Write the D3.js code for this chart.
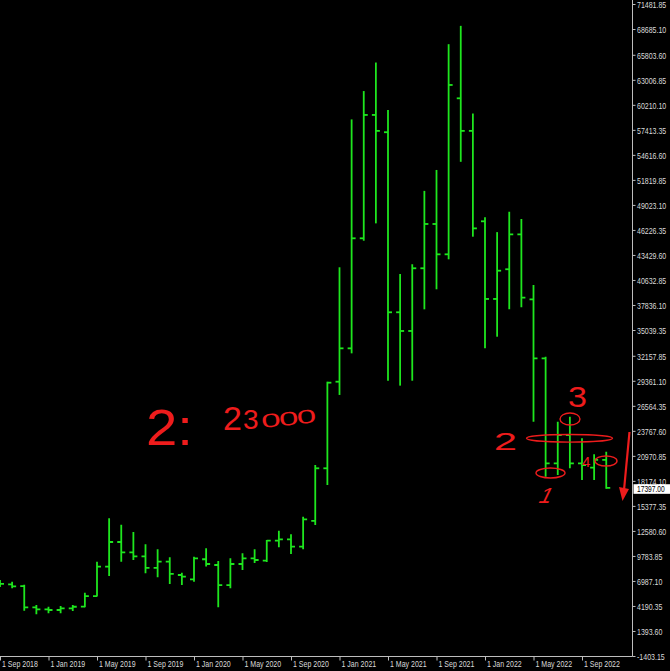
<!DOCTYPE html>
<html>
<head>
<meta charset="utf-8">
<script src="https://cdn.jsdelivr.net/npm/d3@7"></script>
<style>
  html, body { margin: 0; padding: 0; background: #000; overflow: hidden; }
  svg { display: block; }
</style>
</head>
<body>
<svg id="chart" width="670" height="671"></svg>
<script>
// ---- Data: monthly OHLC bars, Sep 2018 .. Nov 2022 ----
const months = ["Sep 2018","Oct 2018","Nov 2018","Dec 2018","Jan 2019","Feb 2019","Mar 2019","Apr 2019","May 2019","Jun 2019","Jul 2019","Aug 2019",
  "Sep 2019","Oct 2019","Nov 2019","Dec 2019","Jan 2020","Feb 2020","Mar 2020","Apr 2020","May 2020","Jun 2020","Jul 2020","Aug 2020",
  "Sep 2020","Oct 2020","Nov 2020","Dec 2020","Jan 2021","Feb 2021","Mar 2021","Apr 2021","May 2021","Jun 2021","Jul 2021","Aug 2021",
  "Sep 2021","Oct 2021","Nov 2021","Dec 2021","Jan 2022","Feb 2022","Mar 2022","Apr 2022","May 2022","Jun 2022","Jul 2022","Aug 2022",
  "Sep 2022","Oct 2022","Nov 2022"];
const openVals  = [6760,6600,6400,4040,3800,3740,3930,4110,5300,8580,11340,10180,9730,8440,9140,7650,7170,9410,8770,6530,8880,9520,9250,11490,
  11640,10820,13700,19580,29260,32990,45290,59080,57150,37020,34930,41940,46890,43500,60940,57300,47190,38510,41830,45740,38470,31870,20140,23300,20140,19650,20510];
const highVals  = [7100,6900,6550,4300,4100,4190,4300,5680,9140,14000,13280,12460,11080,10520,9630,7910,9700,10640,9220,9520,10080,10520,11560,12600,
  12200,14160,19950,29260,42050,58580,61750,64940,59640,41300,42390,50590,52930,66990,69040,59240,47640,45980,48250,47450,40070,32050,24790,25350,22930,21150,21440];
const lowVals   = [6300,6160,3660,3250,3370,3370,3620,4050,5250,7540,9140,9330,7840,7400,6650,6530,6900,8590,4040,6160,8210,9000,9100,10750,
  10000,10520,13240,17710,27780,32430,45020,46960,29370,28820,29370,37350,39590,42940,53840,45470,32990,34290,37350,37580,24790,18640,18830,19580,18270,18270,17300];
const closeVals = [6650,6370,4040,3800,3740,3930,4100,5300,8580,11340,10180,9730,8440,9140,7770,7460,9520,8880,6530,8880,9520,9330,11490,11640,
  10820,13880,19580,29150,32990,45290,59080,57300,37020,34930,41940,46890,43500,62430,57300,46400,38510,41670,45740,38650,31870,20140,23300,20140,19950,20510,17397];
const priceTicks = [71481.85,68685.10,65803.60,63006.85,60210.10,57413.35,54616.60,51819.85,49023.10,46226.35,43429.60,40632.85,37836.10,35039.35,
  32157.85,29361.10,26564.35,23767.60,20970.85,18174.10,15377.35,12580.60,9783.85,6987.10,4190.35,1393.60,-1403.15];
const timeTickIdx = [0,4,8,12,16,20,24,28,32,36,40,44,48];
const timeTickLabels = ["1 Sep 2018","1 Jan 2019","1 May 2019","1 Sep 2019","1 Jan 2020","1 May 2020","1 Sep 2020",
  "1 Jan 2021","1 May 2021","1 Sep 2021","1 Jan 2022","1 May 2022","1 Sep 2022"];
const lastPrice = 17397.00;

const bars = months.map((m, i) => ({ i, m, o: openVals[i], h: highVals[i], l: lowVals[i], c: closeVals[i] }));

const svg = d3.select("#chart");
const W = 670, H = 671;
const axisX = 632.5, axisY = 656.5;
const SX = 0.74; // horizontal condensing of axis text
svg.append("rect").attr("width", W).attr("height", H).attr("fill", "#000");

const x = d3.scaleLinear().domain([0, 50]).range([0, 606.25]);
const y = d3.scaleLinear().domain([-1403.15, 71481.85]).range([656, 4]);

const GREEN = "#1ee61e";
const AXIS = "#bdbdbd";
const TEXT = "#dadada";
const FONT = "Liberation Sans, Arial, sans-serif";

svg.append("clipPath").attr("id", "plotclip").append("rect")
  .attr("x", 0).attr("y", 0).attr("width", axisX).attr("height", axisY);

const plot = svg.append("g").attr("clip-path", "url(#plotclip)");
const g = plot.selectAll("g.bar").data(bars).join("g").attr("class", "bar")
  .attr("stroke", GREEN).attr("stroke-width", 1.8);
g.append("line").attr("x1", d => x(d.i)).attr("x2", d => x(d.i)).attr("y1", d => y(d.h)).attr("y2", d => y(d.l));
g.append("line").attr("x1", d => x(d.i) - 4).attr("x2", d => x(d.i)).attr("y1", d => y(d.o)).attr("y2", d => y(d.o));
g.append("line").attr("x1", d => x(d.i)).attr("x2", d => x(d.i) + 4).attr("y1", d => y(d.c)).attr("y2", d => y(d.c));

// axis lines
svg.append("line").attr("x1", axisX).attr("x2", axisX).attr("y1", 0).attr("y2", axisY).attr("stroke", AXIS).attr("stroke-width", 1);
svg.append("line").attr("x1", 0).attr("x2", axisX).attr("y1", axisY).attr("y2", axisY).attr("stroke", AXIS).attr("stroke-width", 1);

// y axis
const yAxis = svg.append("g").attr("transform", `translate(${axisX},0)`)
  .call(d3.axisRight(y).tickValues(priceTicks).tickSize(3).tickPadding(1).tickFormat(d => d.toFixed(2)));
yAxis.select(".domain").remove();
yAxis.selectAll(".tick line").attr("stroke", AXIS);
yAxis.selectAll(".tick text").attr("fill", TEXT).attr("font-family", FONT).attr("font-size", 9.5)
  .attr("x", 4.5 / SX).attr("dy", "0.34em").attr("transform", `scale(${SX},1)`);

// x axis
const xAxis = svg.append("g").attr("transform", `translate(0,${axisY})`)
  .call(d3.axisBottom(x).tickValues(timeTickIdx).tickSize(4).tickFormat((d, k) => timeTickLabels[k]));
xAxis.select(".domain").remove();
xAxis.selectAll(".tick line").attr("stroke", AXIS);
xAxis.selectAll(".tick text").attr("fill", TEXT).attr("font-family", FONT).attr("font-size", 9.5)
  .attr("text-anchor", "start").attr("x", 1.5 / SX).attr("y", 11).attr("dy", "0")
  .attr("transform", `scale(${SX},1)`);

// last price label
const lp = svg.append("g").attr("transform", `translate(${axisX + 1},${y(lastPrice)})`);
lp.append("rect").attr("x", 0).attr("y", -3.6).attr("width", 37).attr("height", 9.6).attr("fill", "#fff");
lp.append("text").attr("x", 3.5 / SX).attr("y", 1.2).attr("dy", "0.34em").attr("fill", "#000")
  .attr("font-family", FONT).attr("font-size", 9).attr("transform", `scale(${SX},1)`)
  .text(lastPrice.toFixed(2));

// ---- hand-drawn red annotations ----
const RED = "#ee1c1c";
const HAND = "Liberation Sans, Arial, sans-serif";
const ann = svg.append("g").attr("fill", RED).attr("font-family", HAND);

ann.append("text").attr("x", 146).attr("y", 445).attr("font-size", 50)
  .attr("textLength", 47).attr("lengthAdjust", "spacingAndGlyphs").text("2:");
const t2 = ann.append("text").attr("font-size", 34);
t2.append("tspan").attr("x", 223).attr("y", 430).text("2");
t2.append("tspan").attr("x", 243).attr("y", 429).attr("font-size", 28).text("3");
ann.append("text").attr("font-size", 24).attr("letter-spacing", -1)
  .attr("transform", "translate(262,428) rotate(-6) scale(1.45,0.8)").text("000");

ann.append("text").attr("x", 568).attr("y", 407).attr("font-size", 30)
  .attr("textLength", 19).attr("lengthAdjust", "spacingAndGlyphs").text("3");
ann.append("text").attr("x", 494).attr("y", 450).attr("font-size", 24)
  .attr("textLength", 23).attr("lengthAdjust", "spacingAndGlyphs").text("2");
ann.append("text").attr("x", 0).attr("y", 0).attr("font-size", 22)
  .attr("transform", "translate(537,503) skewX(-25)").text("1");
ann.append("text").attr("x", 582).attr("y", 467).attr("font-size", 15).text("4");

const ell = [
  { cx: 570, cy: 419, rx: 10, ry: 6 },
  { cx: 569.5, cy: 438.3, rx: 43, ry: 3.8 },
  { cx: 550.5, cy: 473, rx: 14.5, ry: 5 },
  { cx: 606, cy: 461, rx: 11, ry: 5 }
];
svg.append("g").selectAll("ellipse").data(ell).join("ellipse")
  .attr("cx", d => d.cx).attr("cy", d => d.cy).attr("rx", d => d.rx).attr("ry", d => d.ry)
  .attr("fill", "none").attr("stroke", RED).attr("stroke-width", 1.4);

svg.append("line").attr("x1", 629.5).attr("y1", 432).attr("x2", 624).attr("y2", 490)
  .attr("stroke", RED).attr("stroke-width", 2.2);
svg.append("path").attr("d", "M619,487 L629,489 L622.5,501 Z").attr("fill", RED);
</script>
</body>
</html>
